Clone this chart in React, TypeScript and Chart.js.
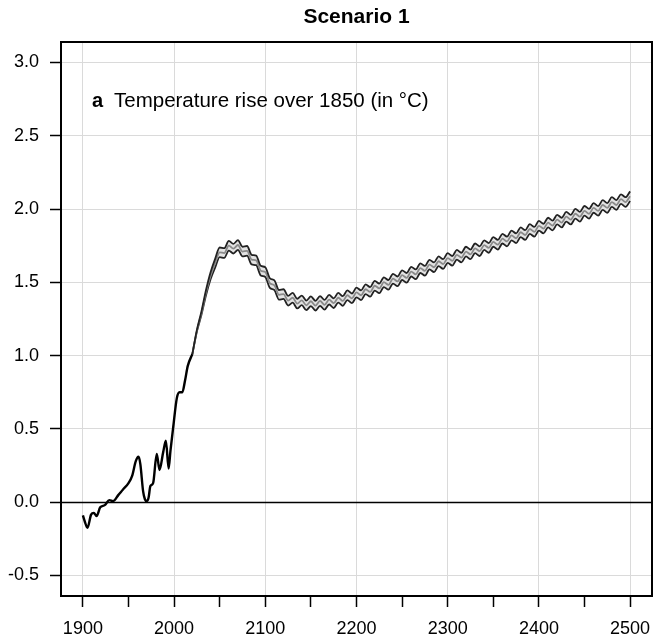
import React, { useEffect, useRef } from 'react';
import { Chart, registerables } from 'chart.js';

Chart.register(...registerables);

const chartTitle = 'Scenario 1';
const panelLetter = 'a';
const panelLabel = 'Temperature rise over 1850 (in °C)';

const xTickValues = [1900, 1950, 2000, 2050, 2100, 2150, 2200, 2250, 2300, 2350, 2400, 2450, 2500];
const yTickValues = [-0.5, 0, 0.5, 1.0, 1.5, 2.0, 2.5, 3.0];

const histYears = [1900, 1902, 1905, 1909, 1912, 1915, 1919, 1924, 1929, 1933, 1939, 1944, 1950, 1954, 1958, 1961, 1963, 1966, 1968, 1970, 1972, 1974, 1977, 1981, 1984, 1988, 1991, 1994, 1996, 1999, 2003, 2006, 2009, 2012, 2015, 2020];
const histTemp = [-0.09, -0.13, -0.175, -0.085, -0.073, -0.095, -0.035, -0.02, 0.014, 0.007, 0.05, 0.087, 0.13, 0.18, 0.28, 0.31, 0.26, 0.075, 0.02, 0.007, 0.03, 0.11, 0.13, 0.33, 0.22, 0.34, 0.42, 0.23, 0.35, 0.51, 0.71, 0.75, 0.75, 0.83, 0.93, 1.01];

const projYears = [
  2020, 2025, 2030, 2035, 2040, 2045, 2050, 2055, 2060, 2065,
  2070, 2075, 2080, 2085, 2090, 2095, 2100, 2105, 2110, 2115,
  2120, 2125, 2130, 2135, 2140, 2145, 2150, 2155, 2160, 2165,
  2170, 2175, 2180, 2185, 2190, 2195, 2200, 2205, 2210, 2215,
  2220, 2225, 2230, 2235, 2240, 2245, 2250, 2255, 2260, 2265,
  2270, 2275, 2280, 2285, 2290, 2295, 2300, 2305, 2310, 2315,
  2320, 2325, 2330, 2335, 2340, 2345, 2350, 2355, 2360, 2365,
  2370, 2375, 2380, 2385, 2390, 2395, 2400, 2405, 2410, 2415,
  2420, 2425, 2430, 2435, 2440, 2445, 2450, 2455, 2460, 2465,
  2470, 2475, 2480, 2485, 2490, 2495, 2500,
];

const projMid = [
  1.010, 1.170, 1.290, 1.430, 1.545, 1.630, 1.705, 1.700, 1.750, 1.730,
  1.755, 1.710, 1.715, 1.655, 1.650, 1.580, 1.570, 1.495, 1.480, 1.415,
  1.420, 1.375, 1.395, 1.355, 1.377, 1.343, 1.371, 1.341, 1.373, 1.347,
  1.382, 1.358, 1.395, 1.373, 1.412, 1.391, 1.431, 1.412, 1.453, 1.435,
  1.477, 1.459, 1.501, 1.483, 1.525, 1.507, 1.549, 1.531, 1.573, 1.555,
  1.597, 1.579, 1.621, 1.603, 1.644, 1.625, 1.666, 1.647, 1.688, 1.669,
  1.710, 1.691, 1.732, 1.713, 1.754, 1.735, 1.776, 1.757, 1.798, 1.779,
  1.820, 1.801, 1.842, 1.823, 1.864, 1.845, 1.886, 1.867, 1.908, 1.888,
  1.928, 1.908, 1.948, 1.928, 1.968, 1.948, 1.988, 1.968, 2.008, 1.988,
  2.028, 2.008, 2.048, 2.028, 2.068, 2.048, 2.088,
];

const projUpper = [
  1.010, 1.176, 1.302, 1.448, 1.569, 1.660, 1.738, 1.733, 1.783, 1.763,
  1.788, 1.743, 1.748, 1.688, 1.683, 1.613, 1.603, 1.528, 1.513, 1.448,
  1.453, 1.408, 1.428, 1.388, 1.410, 1.376, 1.404, 1.374, 1.406, 1.380,
  1.415, 1.391, 1.428, 1.406, 1.445, 1.424, 1.464, 1.445, 1.486, 1.468,
  1.510, 1.492, 1.534, 1.516, 1.558, 1.540, 1.582, 1.564, 1.606, 1.588,
  1.630, 1.612, 1.654, 1.636, 1.677, 1.658, 1.699, 1.680, 1.721, 1.702,
  1.743, 1.724, 1.765, 1.746, 1.787, 1.768, 1.809, 1.790, 1.831, 1.812,
  1.853, 1.834, 1.875, 1.856, 1.897, 1.878, 1.919, 1.900, 1.941, 1.921,
  1.961, 1.941, 1.981, 1.961, 2.001, 1.981, 2.021, 2.001, 2.041, 2.021,
  2.061, 2.041, 2.081, 2.061, 2.101, 2.081, 2.121,
];

const projLower = [
  1.010, 1.164, 1.278, 1.412, 1.521, 1.600, 1.672, 1.667, 1.717, 1.697,
  1.722, 1.677, 1.682, 1.622, 1.617, 1.547, 1.537, 1.462, 1.447, 1.382,
  1.387, 1.342, 1.362, 1.322, 1.344, 1.310, 1.338, 1.308, 1.340, 1.314,
  1.349, 1.325, 1.362, 1.340, 1.379, 1.358, 1.398, 1.379, 1.420, 1.402,
  1.444, 1.426, 1.468, 1.450, 1.492, 1.474, 1.516, 1.498, 1.540, 1.522,
  1.564, 1.546, 1.588, 1.570, 1.611, 1.592, 1.633, 1.614, 1.655, 1.636,
  1.677, 1.658, 1.699, 1.680, 1.721, 1.702, 1.743, 1.724, 1.765, 1.746,
  1.787, 1.768, 1.809, 1.790, 1.831, 1.812, 1.853, 1.834, 1.875, 1.855,
  1.895, 1.875, 1.915, 1.895, 1.935, 1.915, 1.955, 1.935, 1.975, 1.955,
  1.995, 1.975, 2.015, 1.995, 2.035, 2.015, 2.055,
];

const FONT = 'Arial, "Liberation Sans", Helvetica, sans-serif';

const toPoints = (xs: number[], ys: number[]) => xs.map((x, i) => ({ x, y: ys[i] }));

const framePlugin = {
  id: 'framePlugin',
  beforeDatasetsDraw(chart: any) {
    const { ctx, chartArea: a, scales } = chart;
    const y0 = Math.round(scales.y.getPixelForValue(0)) + 0.5;
    ctx.save();
    ctx.strokeStyle = '#000';
    ctx.lineWidth = 1.5;
    ctx.beginPath();
    ctx.moveTo(a.left, y0);
    ctx.lineTo(a.right, y0);
    ctx.stroke();
    ctx.restore();
  },
  afterDraw(chart: any) {
    const { ctx, chartArea: a } = chart;
    ctx.save();
    ctx.strokeStyle = '#000';
    ctx.lineWidth = 2;
    ctx.strokeRect(a.left, a.top, a.right - a.left, a.bottom - a.top);

    ctx.fillStyle = '#000';
    ctx.textBaseline = 'middle';
    ctx.textAlign = 'center';
    ctx.font = `bold 21px ${FONT}`;
    ctx.fillText(chartTitle, (a.left + a.right) / 2, 17);

    ctx.textAlign = 'left';
    ctx.font = `bold 20px ${FONT}`;
    ctx.fillText(panelLetter, a.left + 31, a.top + 59);
    ctx.font = `20.5px ${FONT}`;
    ctx.fillText(panelLabel, a.left + 53, a.top + 59);
    ctx.restore();
  },
};

export default function App() {
  const ref = useRef<HTMLCanvasElement | null>(null);

  useEffect(() => {
    if (!ref.current) return;
    const bandLine = { pointRadius: 0, borderWidth: 1.8, cubicInterpolationMode: 'monotone' as const, borderJoinStyle: 'round' as const };
    const chart = new Chart(ref.current, {
      type: 'line',
      data: {
        datasets: [
          {
            label: 'Historical',
            data: toPoints(histYears, histTemp),
            borderColor: '#000',
            borderWidth: 2.4,
            pointRadius: 0,
            cubicInterpolationMode: 'monotone',
            borderJoinStyle: 'round',
            fill: false,
          },
          {
            label: 'Upper',
            data: toPoints(projYears, projUpper),
            borderColor: '#222',
            backgroundColor: '#e3e3e3',
            fill: '+2',
            ...bandLine,
          },
          {
            label: 'Central',
            data: toPoints(projYears, projMid),
            borderColor: '#8a8a8a',
            fill: false,
            ...bandLine,
          },
          {
            label: 'Lower',
            data: toPoints(projYears, projLower),
            borderColor: '#222',
            fill: false,
            ...bandLine,
          },
        ],
      },
      options: {
        animation: false,
        responsive: false,
        devicePixelRatio: 1,
        font: { family: FONT },
        layout: { padding: { top: 42, right: 4, left: 0, bottom: 0 } },
        plugins: {
          legend: { display: false },
          tooltip: { enabled: false },
          title: { display: false },
          filler: { drawTime: 'beforeDatasetsDraw' },
        } as any,
        scales: {
          x: {
            type: 'linear',
            min: 1876,
            max: 2524,
            afterBuildTicks: (s: any) => {
              s.ticks = xTickValues.map((v) => ({ value: v }));
            },
            afterFit: (s: any) => {
              s.height = 43;
              s.paddingLeft = 0;
              s.paddingRight = 0;
            },
            grid: {
              color: (c: any) => (c.tick && c.tick.value % 100 === 0 ? '#dadada' : 'rgba(0,0,0,0)'),
              lineWidth: 1,
              drawTicks: true,
              tickLength: 11,
              tickColor: '#000',
              tickWidth: 1.5,
            },
            border: { display: false },
            ticks: {
              autoSkip: false,
              maxRotation: 0,
              minRotation: 0,
              padding: 11,
              color: '#000',
              font: { size: 18, family: FONT },
              callback: (v: any) => (Number(v) % 100 === 0 ? String(v) : ''),
            },
          },
          y: {
            type: 'linear',
            min: -0.64,
            max: 3.14,
            afterBuildTicks: (s: any) => {
              s.ticks = yTickValues.map((v) => ({ value: v }));
            },
            afterFit: (s: any) => {
              s.width = 61;
              s.paddingTop = 0;
              s.paddingBottom = 0;
            },
            grid: {
              color: '#dadada',
              lineWidth: 1,
              drawTicks: true,
              tickLength: 11,
              tickColor: '#000',
              tickWidth: 1.5,
            },
            border: { display: false },
            ticks: {
              autoSkip: false,
              padding: 11,
              color: '#000',
              font: { size: 18, family: FONT },
              callback: (v: any) => Number(v).toFixed(1),
            },
          },
        },
      },
      plugins: [framePlugin],
    });
    return () => chart.destroy();
  }, []);

  return (
    <div style={{ position: 'absolute', left: 0, top: 0, width: 656, height: 639, background: '#fff' }}>
      <canvas ref={ref} width={656} height={639} style={{ display: 'block', width: 656, height: 639 }} />
    </div>
  );
}
